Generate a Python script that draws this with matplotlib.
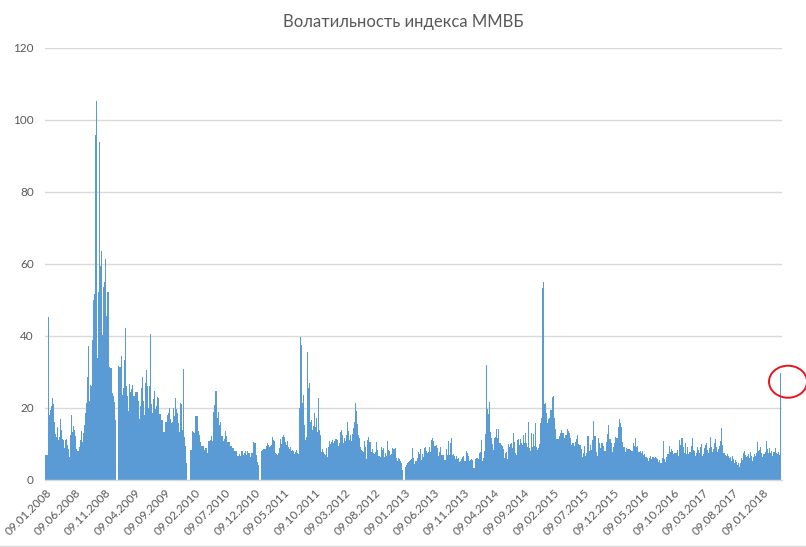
import matplotlib
matplotlib.use("Agg")
import matplotlib.pyplot as plt
import matplotlib.dates as mdates
from matplotlib.patches import Ellipse
from matplotlib.transforms import IdentityTransform
import numpy as np
import pandas as pd

plt.rcParams['font.family'] = ['Lato', 'Noto Sans', 'DejaVu Sans']

# trading periods (start, end) - gaps are the long new-year holidays
periods = [
    ('2008-01-09', '2008-12-31'),
    ('2009-01-11', '2009-12-31'),
    ('2010-01-11', '2010-12-31'),
    ('2011-01-11', '2012-01-03'),
    ('2012-01-03', '2012-12-30'),
    ('2013-01-09', '2014-01-04'),
    ('2014-01-04', '2015-01-04'),
    ('2015-01-04', '2016-01-04'),
    ('2016-01-04', '2017-01-04'),
    ('2017-01-04', '2018-01-04'),
    ('2018-01-04', '2018-04-10'),
]

# volatility values, ~one per 5 days
vol_2008 = [7, 7, 45.4, 18, 19.5, 20.5, 22.7, 21, 16, 12.8, 12, 14.8, 11, 12, 17, 14, 11.3, 11,
            8.8, 11, 11.3, 9.7, 8.5, 6.5, 12.5, 18, 13.4, 15, 14, 12.2, 8.5, 8, 9.3, 11, 13.7,
            10.6, 13, 15.3, 18.5, 21.5, 28.7, 37.2, 22, 26.4, 26, 39, 50, 51.7, 95.8, 105.3, 34,
            52.3, 94, 59.4, 63.6, 40.3, 53.7, 55, 61.4, 45.5, 52.3, 52.3, 31.5, 31.2, 24.3,
            23.3, 21.8, 16.7]
vol_2009 = [31.7, 31.3, 31.5, 34.4, 23.6, 25.6, 33.3, 42.3, 26, 23.3, 19.3, 26.7, 24.5, 25.4,
            26.4, 23.3, 23.3, 24.4, 24.5, 22, 17, 20.5, 25.6, 28.7, 22, 18, 27, 30.6, 26, 20, 26,
            40.5, 21, 18.7, 22.4, 24.7, 19.6, 20.5, 23, 22.7, 18.3, 18.3, 16.8, 16.7, 13.4, 16,
            16, 18, 18.7, 20, 17, 15.7, 16, 20, 17.8, 22.7, 19.6, 18.5, 15.7, 13.4, 21.3, 21,
            13.9, 30.7, 12, 9.4, 4.6]
vol_2010 = [8.3, 8.3, 13.7, 13.3, 13, 17.8, 17.8, 13.7, 12.5, 10.6, 9.4, 9.4, 8.3, 8.8, 8.8,
            7.4, 10.9, 11.1, 12.2, 10.9, 19, 20.8, 24.6, 17.1, 19, 15.3, 16.2, 12.2, 10.9, 11.3,
            13.7, 12.2, 10.6, 10.6, 9.4, 9.4, 8.8, 8.8, 8.1, 8, 6.8, 6.8, 7.2, 6.8, 8.1, 6.9,
            7.6, 8.1, 6.9, 8, 7.6, 6.5, 7.6, 7.4, 10.6, 10.4, 7, 5.1, 4.2]
vol_2011 = [8.1, 8.3, 8.5, 8.5, 8.7, 9.5, 10, 10.4, 9.8, 9.1, 9.4, 9.6, 11.9, 11.2, 10.7, 8.5,
            7.4, 7.2, 6.9, 7.5, 8.8, 11.3, 10, 12, 13.9, 12.6, 11.9, 10.6, 9.6, 10.7, 9.3, 8.7,
            9.2, 8.7, 8.1, 8.4, 8.1, 7.2, 7.9, 8.3, 7.4, 7.2, 7.6, 19.9, 39.8, 37.5, 21.3, 23.6,
            15.3, 11.1, 12, 10.9, 35.6, 25.5, 26.9, 16.1, 16.7, 13.9, 15, 18.5, 19.8, 14.8,
            17.1, 13.3, 22.7, 13.9, 12.5, 7.8, 8.5, 8.1, 7.8, 7.2, 6.9, 8.8, 6.5, 9.3, 10.9, 10,
            9.4]
vol_2012 = [10.6, 11.1, 10.4, 10.9, 11.5, 11.3, 11.1, 9.4, 10.2, 13.4, 14, 12.5, 10.4, 11.6,
            10.8, 12.6, 16.2, 13.5, 11.2, 12.4, 10.9, 12.8, 14.5, 16.2, 21.5, 19.3, 15.5, 12.5,
            11.8, 9.3, 8.3, 8.1, 7.9, 10.7, 9.1, 5.7, 11.1, 11.9, 10.6, 10.6, 7.8, 8.5, 7.6, 7.2,
            7.8, 10.6, 8.3, 6.7, 6.5, 9.1, 8.3, 9, 6.5, 7.4, 6.7, 10.8, 8.3, 8.1, 6.9, 7.1, 8.8,
            8.6, 8.6, 8.8, 6.1, 5.4, 6.1, 5.9, 5.4, 4.8, 2.8]
vol_2013 = [3.7, 4.1, 4.6, 5, 5.4, 5.6, 5.9, 8.8, 6.1, 4.4, 5.3, 5.3, 6.1, 7.7, 7.2, 8.5, 5.6,
            7.2, 6.3, 8.8, 9.3, 8.1, 7.6, 7.8, 9.1, 7.8, 11.1, 11.6, 10.9, 9.4, 9.4, 9.7, 8.9,
            6.7, 7.9, 9.1, 6.9, 6.9, 6.9, 5.6, 8.5, 6.9, 10.9, 6.9, 10.2, 11.6, 6.9, 7.2, 6.7,
            5.9, 6.7, 5.9, 6.1, 5, 5.4, 5.7, 6.5, 6.7, 5.2, 5.4, 8.1, 7.6, 6.7, 5.2, 5.6, 5.7,
            5.6, 3.2, 3.2]
vol_2014 = [5.9, 6.1, 6.1, 5.7, 7.4, 7.8, 11.1, 5.4, 6.1, 8.1, 12.8, 31.9, 19.8, 18.3, 21.7,
            13.4, 11.6, 10, 8.3, 11.6, 12, 14.1, 11.6, 14.1, 10.4, 9.7, 9.4, 8.5, 6, 7.4, 7.8,
            5.7, 10, 9.1, 10, 10.4, 8.8, 13, 10.6, 7.4, 7, 11.1, 11.5, 9.6, 11.3, 10.2, 9.7,
            12.5, 10.2, 13, 10.4, 9.3, 16.1, 8.8, 8.1, 13, 9.3, 12.8, 9.4, 15.9, 9.3, 8.3, 8.8,
            10, 15.7, 17.1, 53.3, 55, 21.1, 21.5, 18.7]
vol_2015 = [15.7, 16.9, 17.1, 19.5, 23, 23.3, 17.1, 14.2, 11.3, 11.3, 12.1, 13, 13.9, 13.1, 13,
            11.6, 12.4, 14.1, 13.7, 13, 11.8, 9.7, 10.2, 9.4, 10.5, 11.3, 12.5, 10, 9.8, 8.5,
            6.5, 7.4, 9.4, 6.7, 7.4, 12.2, 8.1, 9.7, 8.3, 11.1, 16.3, 12.2, 7.9, 6.7, 11.7, 10.2,
            8.9, 10.2, 9.5, 8.1, 8.1, 10.6, 12.8, 15.3, 11.5, 10.2, 7.9, 9.1, 10.4, 11.9, 11.6,
            14.8]
vol_2016 = [16.9, 15.9, 14.8, 10.6, 9.1, 7.9, 8.8, 8.6, 8.5, 8.6, 8.3, 8.1, 10.4, 9.4, 11.6,
            9.1, 9.4, 7.9, 8.1, 7.4, 8.1, 6.9, 7.2, 6.5, 6, 5.4, 6, 6.7, 5.7, 6.3, 6, 6.5, 6,
            5.7, 5.1, 5.6, 4.6, 6, 10.8, 5.7, 5.1, 6.5, 7.2, 9.4, 7.9, 8.5, 8.1, 7.2, 7.4, 7.6,
            8.3, 6.7, 11.1, 9.7, 11.6, 9.1, 7.6, 10.2, 7.2, 9.3, 7.2, 7.9]
vol_2017 = [9.5, 11.6, 8.4, 8.1, 6.7, 7.6, 9.3, 8.2, 7.4, 9.3, 10.1, 6.7, 7.2, 8.8, 9.6, 10.2,
            8.4, 7.5, 8.9, 12, 9.1, 7.8, 8.5, 10.2, 11.3, 9.2, 7.9, 8.6, 9.4, 10.8, 14.4, 9.7,
            8.6, 7.6, 7.6, 6.9, 6.7, 7.2, 6.7, 6, 6.5, 5.4, 6.7, 5.7, 4.8, 5.6, 5.1, 4.2, 4.8,
            3.5, 4.8, 6, 5.6, 7.6, 8.1, 6.9, 6.3, 6.7, 7.2, 6, 7.9, 6.7, 5.4, 6.5, 7.2, 6.8,
            7.5, 10.5, 8, 8.4, 9.2, 7.5]
vol_2018 = [6.5, 7.2, 7.9, 10.9, 8.5, 7.5, 8.8, 7.4, 8.1, 6.7, 7.9, 8.8, 7.6, 7.2, 7.9, 7.0,
            29.8]

series = [vol_2008, vol_2009, vol_2010, vol_2011, vol_2012, vol_2013, vol_2014, vol_2015,
          vol_2016, vol_2017, vol_2018]

tick_labels = ['09.01.2008', '09.06.2008', '09.11.2008', '09.04.2009', '09.09.2009',
               '09.02.2010', '09.07.2010', '09.12.2010', '09.05.2011', '09.10.2011',
               '09.03.2012', '09.08.2012', '09.01.2013', '09.06.2013', '09.11.2013',
               '09.04.2014', '09.09.2014', '09.02.2015', '09.07.2015', '09.12.2015',
               '09.05.2016', '09.10.2016', '09.03.2017', '09.08.2017', '09.01.2018']

blue = '#5B9BD5'
grey_text = '#595959'
grid_col = '#D9D9D9'

fig = plt.figure(figsize=(8.06, 5.47), dpi=100)
ax = fig.add_axes([45 / 806, 1 - 480 / 547, 737 / 806, 432 / 547])

for (start, end), vals in zip(periods, series):
    t0 = mdates.date2num(pd.Timestamp(start))
    t1 = mdates.date2num(pd.Timestamp(end))
    step = (t1 - t0) / len(vals)
    x = t0 + step * np.arange(len(vals))
    ax.bar(x, vals, width=step, align='edge', color=blue, linewidth=0, antialiased=False)

ax.set_xlim(mdates.date2num(pd.Timestamp('2008-01-06 12:00')),
            mdates.date2num(pd.Timestamp('2018-04-14')))
ax.set_ylim(0, 120)
ax.set_yticks(np.arange(0, 121, 20))
ax.yaxis.grid(True, color=grid_col, linewidth=1)
ax.set_axisbelow(True)

tick_pos = mdates.date2num(pd.to_datetime(tick_labels, format='%d.%m.%Y'))
ax.set_xticks(tick_pos)
ax.set_xticklabels(tick_labels, rotation=45, ha='right', va='top', rotation_mode='anchor')

for s in ['left', 'right', 'top']:
    ax.spines[s].set_visible(False)
ax.spines['bottom'].set_color(grid_col)
ax.spines['bottom'].set_linewidth(1)
ax.tick_params(axis='both', length=0, colors=grey_text, labelsize=8.5)
ax.tick_params(axis='y', pad=8)
ax.tick_params(axis='x', pad=5)

# last point highlight (hand drawn red loop), placed after limits are fixed
last_x = mdates.date2num(pd.Timestamp(periods[-1][1])) - 1
px, py = ax.transData.transform((last_x, vol_2018[-1]))
loop = Ellipse((px + 7, py - 9), 38, 32, transform=IdentityTransform(), fill=False,
               edgecolor='#E8141B', linewidth=1.4, clip_on=False)
fig.add_artist(loop)

fig.text(0.5, 1 - 22 / 547, 'Волатильность индекса ММВБ', ha='center', va='center',
         fontsize=12, color=grey_text)

# chart border line at the bottom
fig.add_artist(plt.Line2D([0, 1], [1.5 / 547, 1.5 / 547], color=grid_col, linewidth=1))

fig.savefig('out.png', dpi=100)
